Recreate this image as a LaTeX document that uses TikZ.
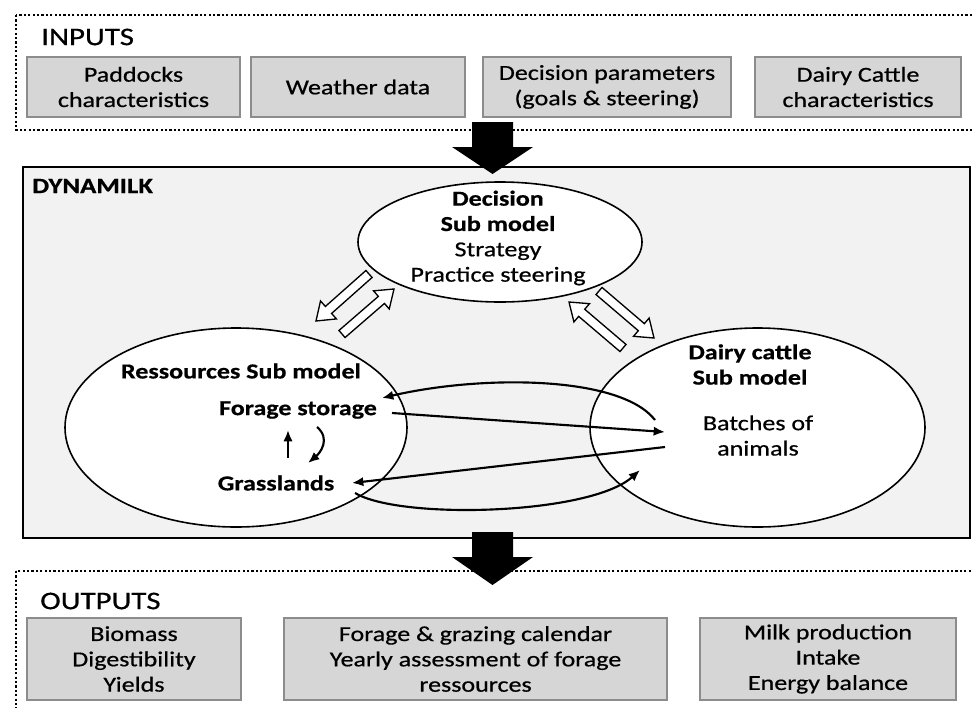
\documentclass[tikz,border=0pt]{standalone}
\usepackage{fontspec}
\setmainfont{Carlito}[FakeStretch=1.22, UprightFeatures={FakeBold=0.6}, BoldFeatures={FakeBold=0.6}]
\usetikzlibrary{calc,shapes.geometric,arrows.meta}
\newcommand{\dmfont}{\fontsize{16}{19}\selectfont}
\newcommand{\dmtitle}{\fontsize{19}{22}\selectfont}
\newcommand{\dmdyn}{\fontsize{16.5}{18}\selectfont\bfseries}
\newcommand{\hollowarr}[2]{%
  \coordinate (hb) at ($(#2)!12.5pt!(#1)$);
  \draw[hollowstyle] ($(#1)!3.5pt!90:(#2)$) -- ($(hb)!3.5pt!90:(#2)$) -- ($(hb)!9pt!90:(#2)$) -- (#2) -- ($(hb)!9pt!-90:(#2)$) -- ($(hb)!3.5pt!-90:(#2)$) -- ($(#1)!3.5pt!-90:(#2)$) -- cycle;}
\tikzset{
  gbox/.style={draw=black!45, fill=black!16, line width=0.8pt, inner sep=0pt, outer sep=0pt, align=center, font=\dmfont},
  dotbox/.style={draw=black, line width=1.7pt, dash pattern=on 1.6pt off 1.7pt},
  subell/.style={ellipse, draw=black, fill=white, line width=1.2pt, inner sep=0pt, outer sep=0pt},
  txt/.style={inner sep=0pt, align=center, font=\dmfont},
  btxt/.style={inner sep=0pt, align=center, font=\dmfont\bfseries},
  conn/.style={line width=1.6pt, -{Latex[length=8.5pt,width=7pt]}},
  hollowstyle/.style={draw=black, fill=white, line width=1pt, line join=miter},
  bigarrow/.style={fill=black}
}
\begin{document}
\begin{tikzpicture}[x=0.75pt,y=-0.75pt]
\path[use as bounding box] (0,0) rectangle (973,707);
\clip (0,0) rectangle (973,707);
\fill[white] (0,0) rectangle (973,707);

% INPUTS
\draw[dotbox] (16,15) rectangle (995,130);
\node[anchor=west, inner sep=0pt, font=\dmtitle] (inlbl) at (41,37) {INPUTS};
\node[gbox, minimum width=159.75pt, minimum height=45pt] (in1) at (133.5,87) {Paddocks\\characteristics};
\node[gbox, minimum width=160.5pt, minimum height=45pt] (in2) at (358,87) {Weather data};
\node[gbox, minimum width=186pt, minimum height=45pt] (in3) at (607,87) {Decision parameters\\(goals \& steering)};
\node[gbox, minimum width=154.5pt, minimum height=45pt] (in4) at (858,87) {Dairy Cattle\\characteristics};

% OUTPUTS
\draw[dotbox] (16,571) rectangle (995,725);
\node[anchor=west, inner sep=0pt, font=\dmtitle] (outlbl) at (40,601) {OUTPUTS};
\node[gbox, minimum width=160.5pt, minimum height=61.5pt] (out1) at (134,659) {Biomass\\Digestibility\\Yields};
\node[gbox, minimum width=287.25pt, minimum height=61.5pt] (out2) at (475.5,659) {Forage \& grazing calendar\\Yearly assessment of forage\\ressources};
\node[gbox, minimum width=192pt, minimum height=61.5pt] (out3) at (828,659) {Milk production\\Intake\\Energy balance};

% DYNAMILK
\draw[draw=black, fill=black!5, line width=1.3pt] (23,167) rectangle (970,538);
\node[anchor=west, inner sep=0pt, font=\dmdyn] (dynlbl) at (32,186) {DYNAMILK};

% sub models
\node[subell, minimum width=213pt, minimum height=90pt] (decE) at (500,242) {};
\node[subell, minimum width=256.5pt, minimum height=149.25pt] (resE) at (236,427.5) {};
\node[subell, minimum width=251.25pt, minimum height=149.25pt] (daiE) at (757.5,427.5) {};

\node[txt] (dec) at (498,238) {\textbf{Decision}\\\textbf{Sub model}\\Strategy\\Practice steering};
\node[btxt] (resT) at (241,371) {Ressources Sub model};
\node[btxt] (fs) at (298,410) {Forage storage};
\node[btxt] (gl) at (276,483) {Grasslands};
\node[btxt] (daiT) at (750,364.5) {Dairy cattle\\Sub model};
\node[txt] (bat) at (758,435.5) {Batches of\\animals};

% internal arrows
\draw[conn] ([shift={(12,-25)}]gl.center) -- ([shift={(-10,20)}]fs.center);
\draw[conn] ([shift={(19,17)}]fs.center) .. controls +(14,12) and +(12,-10) .. ([shift={(32,-20)}]gl.center);

% flows between resources and dairy cattle
\draw[conn] ([shift={(-103,-15.5)}]bat.center) .. controls +(-35,-45) and +(98,-23) .. ([shift={(84,-12)}]fs.center);
\draw[conn] ([shift={(94,3)}]fs.center) -- ([shift={(-93,-3.5)}]bat.center);
\draw[conn] ([shift={(-93,11.5)}]bat.center) -- ([shift={(76,0)}]gl.center);
\draw[conn] ([shift={(79,10)}]gl.center) .. controls +(45,27) and +(-50,45) .. ([shift={(-118,34.5)}]bat.center);

% hollow double arrows
\coordinate (l1t) at (369,274); \coordinate (l1h) at (316,321);
\coordinate (l2t) at (342,334); \coordinate (l2h) at (394,289);
\coordinate (r1t) at (623,348); \coordinate (r1h) at (569,302);
\coordinate (r2t) at (599,291); \coordinate (r2h) at (654,338);
\hollowarr{l1t}{l1h}
\hollowarr{l2t}{l2h}
\hollowarr{r1t}{r1h}
\hollowarr{r2t}{r2h}

% big black arrows
\fill[bigarrow] (472,122) -- (513,122) -- (513,147) -- (533,147) -- (492.5,174) -- (452,147) -- (472,147) -- cycle;
\fill[bigarrow] (472,532) -- (513,532) -- (513,557) -- (533,557) -- (492.5,585) -- (452,557) -- (472,557) -- cycle;
\end{tikzpicture}
\end{document}
